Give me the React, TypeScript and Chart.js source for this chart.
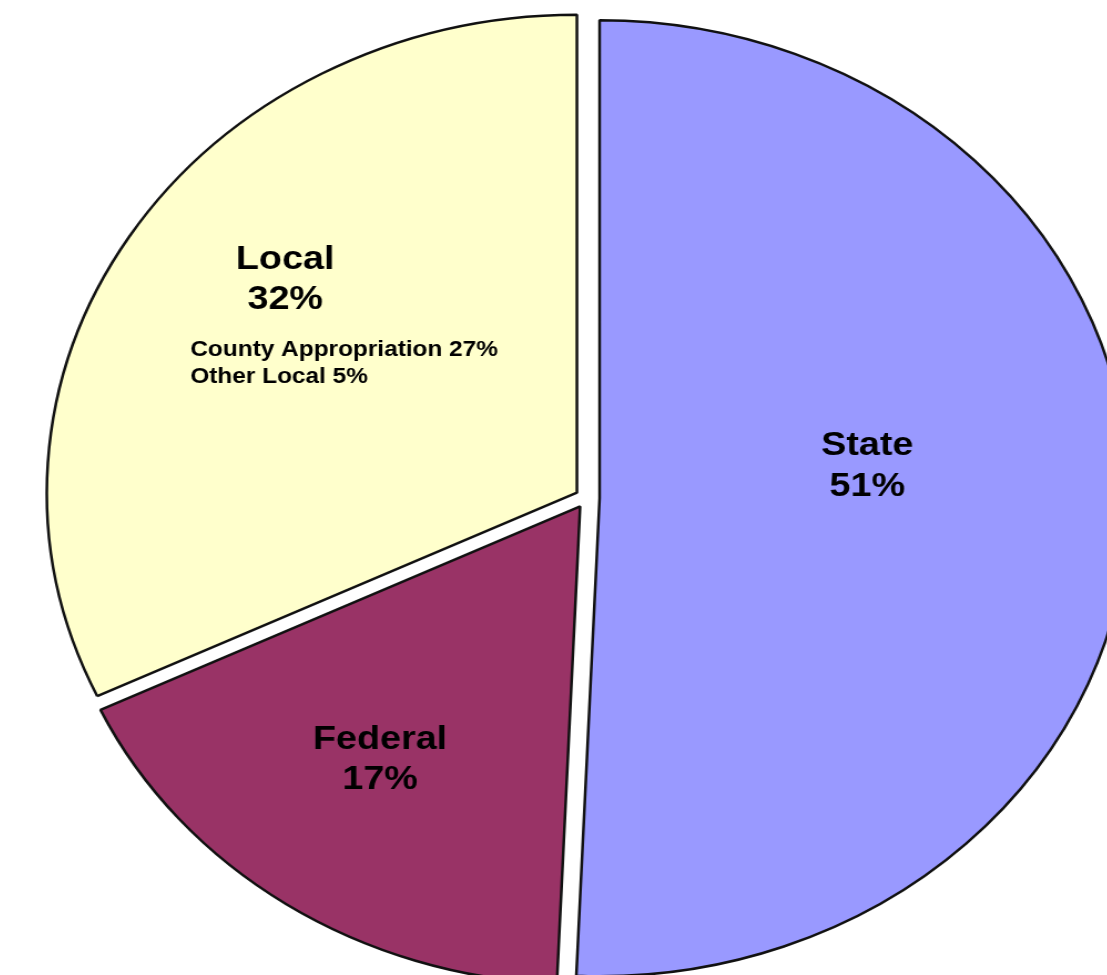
import React, { useEffect, useRef } from "react";
import { Chart, ArcElement, registerables } from "chart.js";

Chart.register(...registerables);

const categories = ["State", "Federal", "Local"];
const shares = [50.7, 17.3, 32.0];
const localParts = ["County Appropriation", "Other Local"];
const localPartShares = [27, 5];
const sliceColors = ["#9999FF", "#993366", "#FFFFCC"];
const explode = [12, 10, 10];

// label anchors, in fractions of the radius relative to the pie centre
const labelAnchors = [
  { name: [0.53, -0.115], pct: [0.53, -0.029] },
  { name: [-0.389, 0.5], pct: [-0.389, 0.584] },
  { name: [-0.568, -0.504], pct: [-0.568, -0.42] },
];
const subAnchor = { x: -0.747, y: [-0.314, -0.257] };

const FONT = '"Liberation Sans", Arial, sans-serif';

// explode slices along their mid-angle without enlarging them
const explodePlugin = {
  id: "explodeSlices",
  afterDatasetsUpdate(chart: any) {
    const meta = chart.getDatasetMeta(0);
    meta.data.forEach((arc: any, i: number) => {
      const shift = explode[i] || 0;
      arc.draw = function (ctx: CanvasRenderingContext2D, area: any) {
        const half = (this.startAngle + this.endAngle) / 2;
        ctx.save();
        ctx.translate(Math.cos(half) * shift, Math.sin(half) * shift);
        ArcElement.prototype.draw.call(this, ctx, area);
        ctx.restore();
      };
    });
  },
};

const labelPlugin = {
  id: "sliceLabels",
  afterDatasetsDraw(chart: any) {
    const meta = chart.getDatasetMeta(0);
    const ctx = chart.ctx;
    const vals = chart.data.datasets[0].data;
    ctx.save();
    ctx.fillStyle = "#000";
    ctx.textBaseline = "alphabetic";
    meta.data.forEach((arc: any, i: number) => {
      const { x, y, outerRadius } = arc.getProps(["x", "y", "outerRadius"], true);
      const a = labelAnchors[i];
      const big = 34;
      ctx.font = `bold ${big}px ${FONT}`;
      ctx.textAlign = "center";
      ctx.fillText(chart.data.labels[i], x + a.name[0] * outerRadius, y + a.name[1] * outerRadius + big * 0.358);
      ctx.fillText(`${Math.round(vals[i])}%`, x + a.pct[0] * outerRadius, y + a.pct[1] * outerRadius + big * 0.358);
      if (chart.data.labels[i] === "Local") {
        const small = 22;
        ctx.font = `bold ${small}px ${FONT}`;
        ctx.textAlign = "left";
        localParts.forEach((p, j) => {
          ctx.fillText(`${p} ${localPartShares[j]}%`, x + subAnchor.x * outerRadius, y + subAnchor.y[j] * outerRadius + small * 0.358);
        });
      }
    });
    ctx.restore();
  },
};

export default function App() {
  const ref = useRef<HTMLCanvasElement>(null);
  useEffect(() => {
    if (!ref.current) return;
    const chart = new Chart(ref.current, {
      type: "pie",
      data: {
        labels: categories,
        datasets: [
          {
            data: shares,
            backgroundColor: sliceColors,
            borderColor: "#111",
            borderWidth: 2.5,
          },
        ],
      },
      options: {
        responsive: false,
        animation: false,
        radius: 478,
        layout: { padding: 0 },
        plugins: { legend: { display: false }, tooltip: { enabled: false } },
      } as any,
      plugins: [explodePlugin, labelPlugin],
    });
    return () => chart.destroy();
  }, []);
  return (
    <div style={{ position: "absolute", left: 0, top: 0, width: 1107, height: 975, overflow: "hidden", background: "#fff" }}>
      <div style={{ position: "absolute", left: 33.7, top: 0, width: 996, height: 996, transform: "scaleX(1.109)", transformOrigin: "0 0" }}>
        <canvas ref={ref} width={996} height={996} />
      </div>
    </div>
  );
}
